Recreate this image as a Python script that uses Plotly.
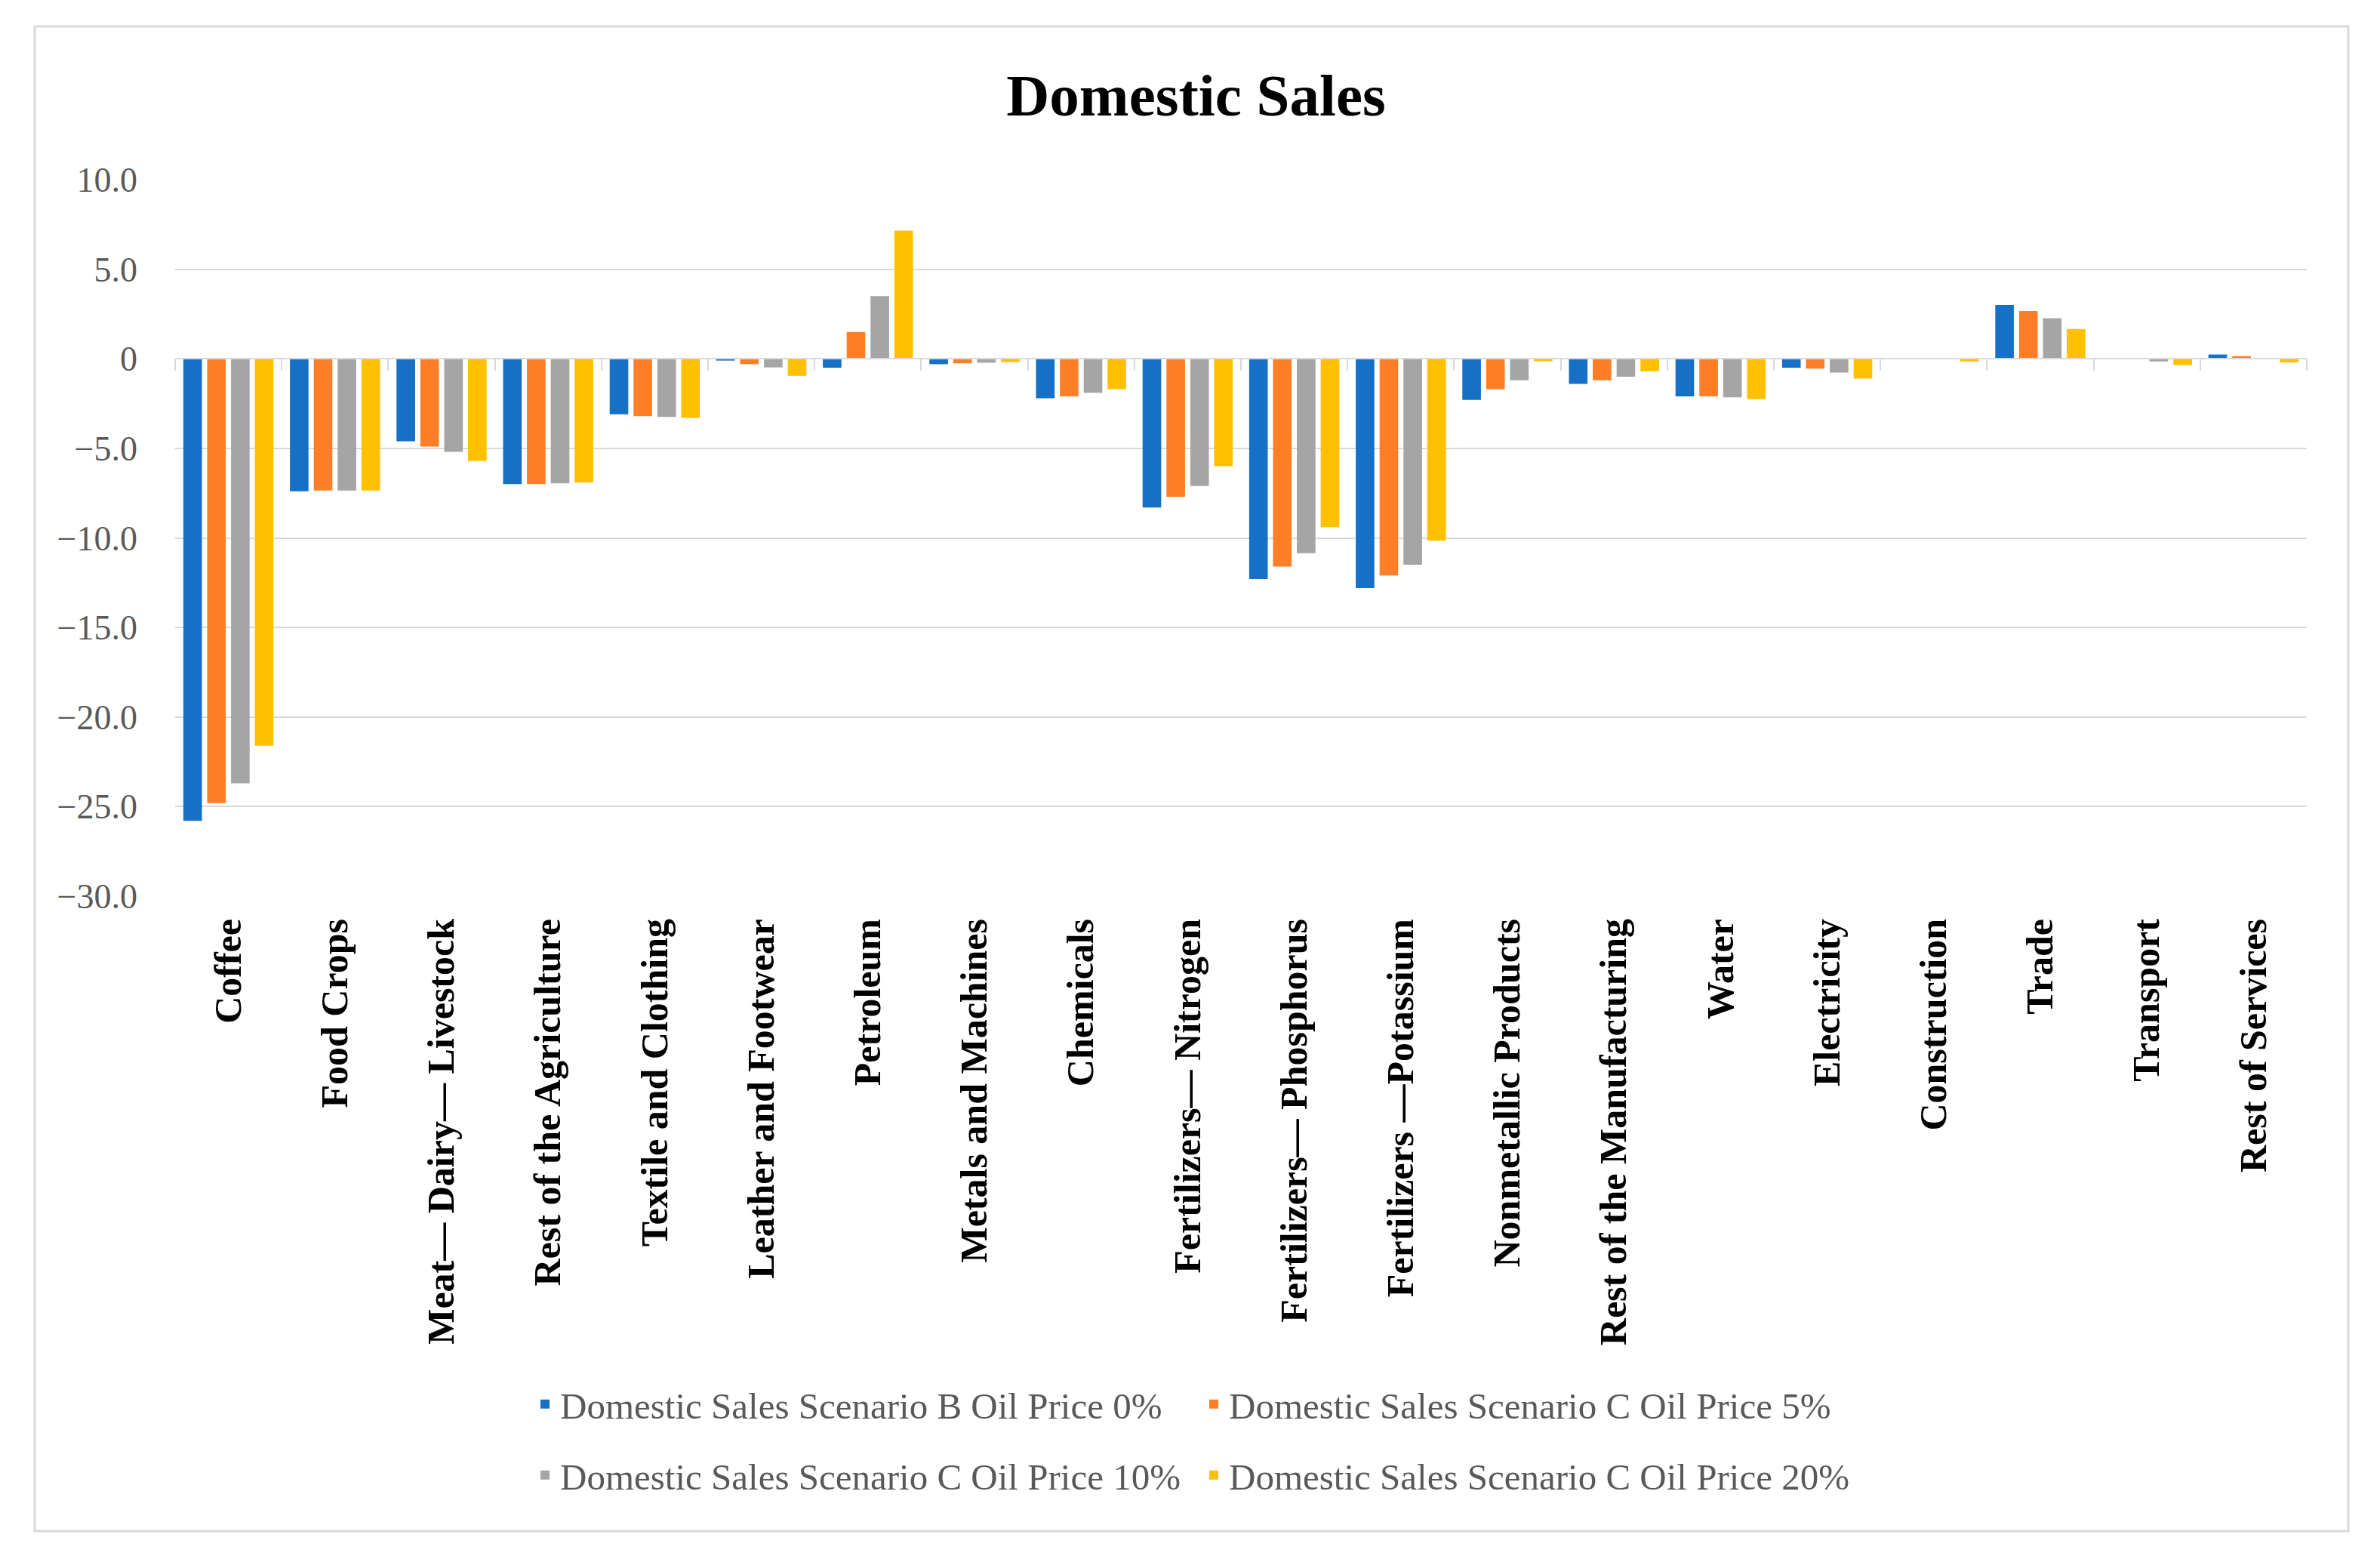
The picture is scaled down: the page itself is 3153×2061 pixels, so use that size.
import plotly.graph_objects as go

categories = ["Coffee", "Food Crops", "Meat\u2014 Dairy\u2014 Livestock", "Rest of the Agriculture",
              "Textile and Clothing", "Leather and Footwear", "Petroleum", "Metals and Machines",
              "Chemicals", "Fertilizers\u2014 Nitrogen", "Fertilizers\u2014 Phosphorus",
              "Fertilizers \u2014Potassium", "Nonmetallic Products", "Rest of the Manufacturing",
              "Water", "Electricity", "Construction", "Trade", "Transport", "Rest of Services"]

series_names = ["Domestic Sales Scenario B Oil Price 0%", "Domestic Sales Scenario C Oil Price 5%",
                "Domestic Sales Scenario C Oil Price 10%", "Domestic Sales Scenario C Oil Price 20%"]

b_0 = [-25.8, -7.4, -4.6, -7.0, -3.1, -0.1, -0.5, -0.3, -2.2, -8.3, -12.3, -12.8, -2.3, -1.4, -2.1, -0.5, -0.03, 3.0, 0.0, 0.24]
c_5 = [-24.8, -7.35, -4.9, -7.0, -3.2, -0.3, 1.5, -0.25, -2.1, -7.7, -11.6, -12.1, -1.7, -1.2, -2.1, -0.55, -0.03, 2.67, -0.02, 0.15]
c_10 = [-23.7, -7.35, -5.2, -6.95, -3.25, -0.48, 3.5, -0.22, -1.9, -7.1, -10.85, -11.5, -1.2, -1.0, -2.15, -0.77, -0.03, 2.27, -0.15, 0.0]
c_20 = [-21.6, -7.35, -5.7, -6.9, -3.3, -0.95, 7.15, -0.18, -1.7, -6.0, -9.4, -10.15, -0.13, -0.7, -2.25, -1.1, -0.15, 1.67, -0.35, -0.2]

y_tickvals = [10, 5, 0, -5, -10, -15, -20, -25, -30]
y_ticktext = ["10.0", "5.0", "0", "\u22125.0", "\u221210.0", "\u221215.0", "\u221220.0", "\u221225.0", "\u221230.0"]

colors = ["#1570c6", "#fe7f27", "#a5a5a5", "#ffc000"]
legends = ["legend", "legend", "legend2", "legend2"]

FONT = "P052, URW Palladio L, Palatino Linotype, Book Antiqua, Palatino, Liberation Serif, serif"

W, H = 3153, 2061
L, R, T, B = 224, 105, 230, 882
PW = W - L - R
PH = H - T - B
PB = H - B  # plot bottom pixel


def px_x(p):
    return (p - L) / PW


def px_y(p):
    return (PB - p) / PH


fig = go.Figure()
for name, vals, col, lg in zip(series_names, [b_0, c_5, c_10, c_20], colors, legends):
    fig.add_trace(go.Bar(x=categories, y=vals, name=name, marker=dict(color=col, line=dict(width=0)),
                         legend=lg))

# invisible helper trace to carry the category axis drawn at zero
fig.add_trace(go.Scatter(x=categories, y=[None] * len(categories), xaxis="x2", mode="markers",
                         showlegend=False, hoverinfo="skip"))

fig.update_layout(
    width=W, height=H,
    margin=dict(l=L, r=R, t=T, b=B),
    paper_bgcolor="white", plot_bgcolor="white",
    barmode="group", bargap=0.105, bargroupgap=0.22,
    title=dict(text="<b>Domestic Sales</b>", x=0.5, xref="container", xanchor="center",
               y=1 - 117 / H, yref="container", yanchor="middle",
               font=dict(family=FONT, size=79, color="black")),
    xaxis=dict(type="category", categoryorder="array", categoryarray=categories,
               range=[-0.5, len(categories) - 0.5], showgrid=False, showline=False, ticks="",
               tickangle=-90, ticklabelstandoff=19,
               tickfont=dict(family=FONT, size=50, color="black"), tickprefix="<b>", ticksuffix="</b>"),
    xaxis2=dict(type="category", categoryorder="array", categoryarray=categories,
                range=[-0.5, len(categories) - 0.5], overlaying="x", anchor="free", position=0.75,
                side="bottom", showgrid=False, showline=True, linecolor="#d9d9d9", linewidth=2,
                ticks="outside", tickson="boundaries", ticklen=15, tickcolor="#d9d9d9", tickwidth=2,
                showticklabels=False),
    yaxis=dict(range=[-30, 10], tickvals=y_tickvals, ticktext=y_ticktext, showgrid=True,
               gridcolor="#d9d9d9", gridwidth=2, zeroline=False, showline=False, ticks="",
               ticklabelstandoff=49, tickfont=dict(family=FONT, size=46, color="#595959")),
    legend=dict(orientation="h", x=px_x(694), xanchor="left", y=px_y(1852),
                yanchor="middle", entrywidth=841, entrywidthmode="pixels",
                font=dict(family=FONT, size=49, color="#595959"), bgcolor="rgba(0,0,0,0)"),
    legend2=dict(orientation="h", x=px_x(694), xanchor="left", y=px_y(1946),
                 yanchor="middle", entrywidth=841, entrywidthmode="pixels",
                 font=dict(family=FONT, size=49, color="#595959"), bgcolor="rgba(0,0,0,0)"),
    shapes=[dict(type="rect", xref="paper", yref="paper",
                 x0=px_x(38), x1=px_x(3103), y0=px_y(2020), y1=px_y(27),
                 line=dict(color="#d9d9d9", width=3), fillcolor="rgba(0,0,0,0)", layer="below")],
)

fig.write_html("out.html")
